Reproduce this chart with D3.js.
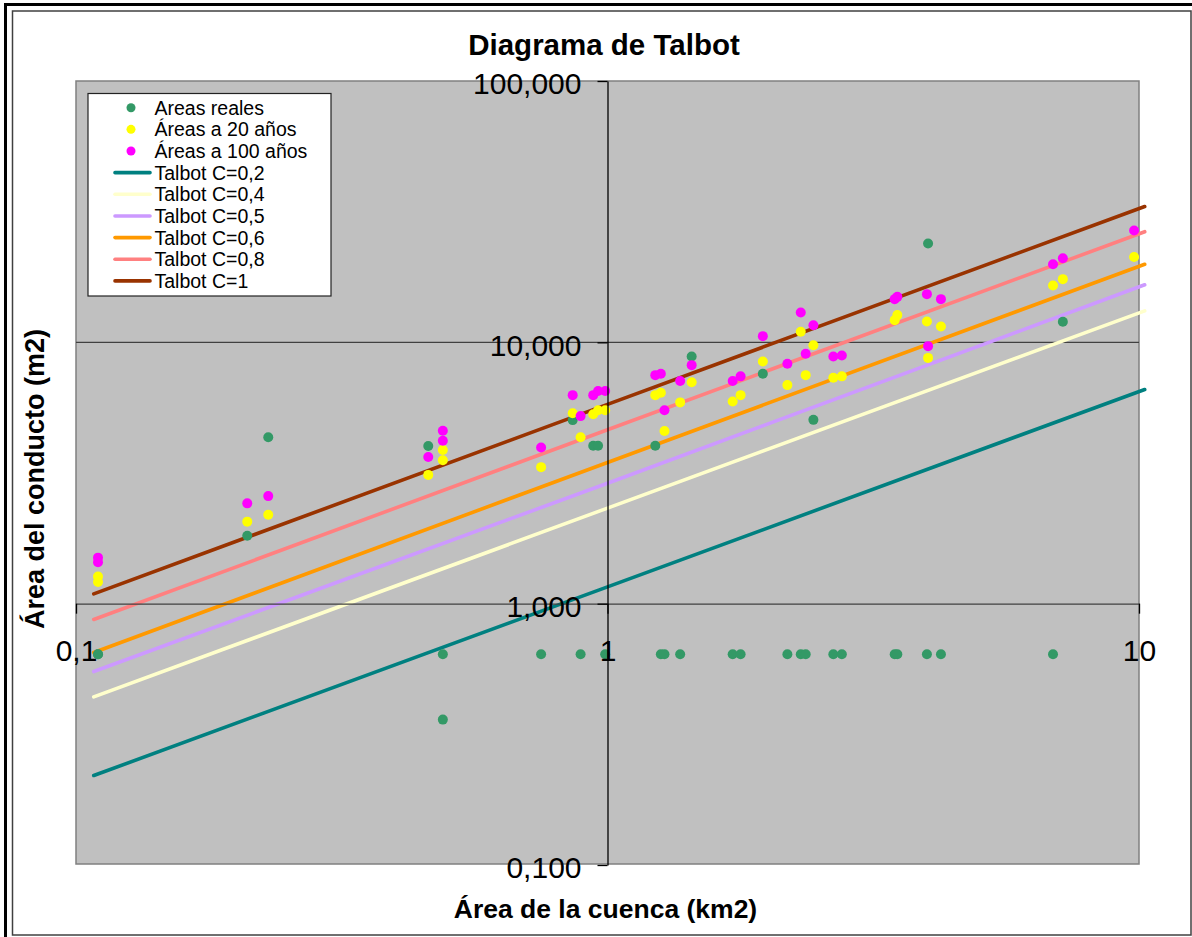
<!DOCTYPE html>
<html>
<head>
<meta charset="utf-8">
<script src="https://cdn.jsdelivr.net/npm/d3@7"></script>
<style>
  html, body { margin: 0; padding: 0; background: #fff; }
  svg { display: block; }
  text { font-family: "Liberation Sans", Arial, sans-serif; fill: #000; }
</style>
</head>
<body>
<svg id="chart" width="1192" height="937"></svg>
<script>
// ---------- DATA ----------
const areaCuenca = [0.11,0.11,0.21,0.23,0.46,0.49,0.49,0.75,0.86,0.89,0.94,0.96,0.99,1.23,1.26,1.28,1.37,1.44,1.72,1.78,1.96,2.18,2.31,2.36,2.44,2.66,2.76,3.47,3.51,3.99,4.01,4.24,6.89,7.19,9.79];
const areasReales = [0.64,0.64,1.82,4.33,4.01,0.64,0.36,0.64,5.04,0.64,4.02,4.02,0.64,4.02,0.64,0.64,0.64,8.83,0.64,0.64,7.58,0.64,0.64,0.64,5.05,0.64,0.64,0.64,0.64,0.64,23.9,0.64,0.64,11.98,null];
const areas20 = [1.27,1.21,2.06,2.19,3.11,3.87,3.54,3.33,5.35,4.33,5.31,5.50,5.50,6.28,6.41,4.58,5.89,7.03,5.94,6.28,8.45,6.86,10.97,7.49,9.75,7.32,7.41,12.16,12.71,12.02,8.72,11.50,16.5,17.45,21.2];
const areas100 = [1.50,1.44,2.42,2.58,3.64,4.59,4.20,3.96,6.28,5.22,6.28,6.51,6.51,7.49,7.58,5.50,7.11,8.18,7.11,7.41,10.56,8.28,13.01,9.04,11.63,8.83,8.91,14.63,14.93,15.29,9.67,14.63,19.91,20.99,26.8];

const talbotX = [0.108, 1, 10.25];
const talbotC02 = [0.22, 1.16, 6.6];
const talbotC04 = [0.44, 2.32, 13.2];
const talbotC05 = [0.55, 2.89, 16.6];
const talbotC06 = [0.65, 3.47, 19.9];
const talbotC08 = [0.87, 4.63, 26.5];
const talbotC1  = [1.09, 5.79, 33.1];

const yTickValues = [0.1, 1, 10, 100];
const yTickLabels = ["0,100", "1,000", "10,000", "100,000"];
const xTickValues = [0.1, 1, 10];
const xTickLabels = ["0,1", "1", "10"];

const titleText = "Diagrama de Talbot";
const xTitle = "Área de la cuenca (km2)";
const yTitle = "Área del conducto (m2)";

// ---------- SERIES ----------
const pointSeries = [
  { name: "Areas reales",      values: areasReales, color: "#339966" },
  { name: "Áreas a 20 años",   values: areas20,     color: "#FFFF00" },
  { name: "Áreas a 100 años",  values: areas100,    color: "#FF00FF" }
];
const lineSeries = [
  { name: "Talbot C=0,2", values: talbotC02, color: "#008080" },
  { name: "Talbot C=0,4", values: talbotC04, color: "#FFFFCC" },
  { name: "Talbot C=0,5", values: talbotC05, color: "#CC99FF" },
  { name: "Talbot C=0,6", values: talbotC06, color: "#FF9900" },
  { name: "Talbot C=0,8", values: talbotC08, color: "#FF8080" },
  { name: "Talbot C=1",   values: talbotC1,  color: "#993300" }
];

// ---------- LAYOUT ----------
const svg = d3.select("#chart");
const plot = { left: 76, right: 1139, top: 81, bottom: 865 };

const x = d3.scaleLog().domain([0.1, 10]).range([plot.left, plot.right]);
const y = d3.scaleLog().domain([0.1, 100]).range([plot.bottom, plot.top]);

// outer frames
svg.append("line").attr("x1", 5.5).attr("x2", 5.5).attr("y1", 3).attr("y2", 937)
  .attr("stroke", "#000").attr("stroke-width", 3);
svg.append("line").attr("x1", 4).attr("x2", 1192).attr("y1", 4.5).attr("y2", 4.5)
  .attr("stroke", "#000").attr("stroke-width", 3);
svg.append("rect").attr("x", 12.5).attr("y", 11).attr("width", 1178.5).attr("height", 924)
  .attr("fill", "#fff").attr("stroke", "#404040").attr("stroke-width", 1.5);

// plot area
svg.append("rect")
  .attr("x", plot.left).attr("y", plot.top)
  .attr("width", plot.right - plot.left).attr("height", plot.bottom - 1 - plot.top)
  .attr("fill", "#C0C0C0").attr("stroke", "#808080").attr("stroke-width", 1.5);

// horizontal gridlines
svg.append("g").selectAll("line")
  .data([10])
  .join("line")
  .attr("x1", plot.left).attr("x2", plot.right)
  .attr("y1", d => y(d)).attr("y2", d => y(d))
  .attr("stroke", "#404040").attr("stroke-width", 1.3);

// Talbot lines
const lineGen = d3.line().x((d, i) => x(talbotX[i])).y(d => y(d));
svg.append("g").selectAll("path")
  .data(lineSeries)
  .join("path")
  .attr("d", s => lineGen(s.values))
  .attr("fill", "none")
  .attr("stroke", s => s.color)
  .attr("stroke-width", 3.6)
  .attr("stroke-linecap", "round");

// points
pointSeries.forEach(s => {
  svg.append("g").selectAll("circle")
    .data(s.values.map((v, i) => ({ x: areaCuenca[i], v })).filter(d => d.v != null))
    .join("circle")
    .attr("cx", d => x(d.x))
    .attr("cy", d => y(d.v))
    .attr("r", 5)
    .attr("fill", s.color);
});

// x axis (crosses at y = 1)
const xAxis = d3.axisBottom(x)
  .tickValues(xTickValues)
  .tickFormat((d, i) => xTickLabels[i])
  .tickSize(10).tickSizeOuter(0).tickPadding(26);
const gx = svg.append("g").attr("transform", `translate(0,${y(1)})`).call(xAxis);
gx.select(".domain").attr("stroke", "#404040").attr("stroke-width", 1.3);
gx.selectAll(".tick line").attr("stroke", "#000").attr("stroke-width", 1.3);
gx.selectAll(".tick text").attr("font-size", 30).attr("font-family", "Liberation Sans, Arial, sans-serif").attr("fill", "#000");

// y axis (crosses at x = 1)
const yAxis = d3.axisLeft(y)
  .tickValues(yTickValues)
  .tickFormat((d, i) => yTickLabels[i])
  .tickSize(10).tickSizeOuter(0).tickPadding(16);
const gy = svg.append("g").attr("transform", `translate(${x(1)},0)`).call(yAxis);
gy.select(".domain").attr("stroke", "#000").attr("stroke-width", 1.3);
gy.selectAll(".tick line").attr("stroke", "#000").attr("stroke-width", 1.3);
gy.selectAll(".tick text").attr("font-size", 30).attr("dy", "0.43em")
  .attr("font-family", "Liberation Sans, Arial, sans-serif").attr("fill", "#000");

// titles
svg.append("text").attr("x", 604).attr("y", 54.5).attr("text-anchor", "middle")
  .attr("font-size", 29.5).attr("font-weight", "bold").text(titleText);
svg.append("text").attr("x", 605.5).attr("y", 918).attr("text-anchor", "middle")
  .attr("font-size", 26.5).attr("font-weight", "bold").text(xTitle);
svg.append("text").attr("transform", "translate(43.5,479) rotate(-90)").attr("text-anchor", "middle")
  .attr("font-size", 27).attr("font-weight", "bold").text(yTitle);

// legend
const legend = svg.append("g");
legend.append("rect").attr("x", 88).attr("y", 93.5).attr("width", 243).attr("height", 202.5)
  .attr("fill", "#fff").attr("stroke", "#222").attr("stroke-width", 1.2);
const legendItems = pointSeries.map(s => ({ ...s, type: "point" }))
  .concat(lineSeries.map(s => ({ ...s, type: "line" })));
const rowY = i => 107.7 + i * 21.65;
const items = legend.selectAll("g.item").data(legendItems).join("g").attr("class", "item")
  .attr("transform", (d, i) => `translate(0,${rowY(i)})`);
items.filter(d => d.type === "point").append("circle")
  .attr("cx", 131).attr("cy", 0).attr("r", 4.5).attr("fill", d => d.color);
items.filter(d => d.type === "line").append("line")
  .attr("x1", 115).attr("x2", 150).attr("y1", 0).attr("y2", 0)
  .attr("stroke", d => d.color).attr("stroke-width", 3.6).attr("stroke-linecap", "round");
items.append("text").attr("x", 154.5).attr("y", 0).attr("dy", "0.36em")
  .attr("font-size", 19.5).text(d => d.name);
</script>
</body>
</html>
